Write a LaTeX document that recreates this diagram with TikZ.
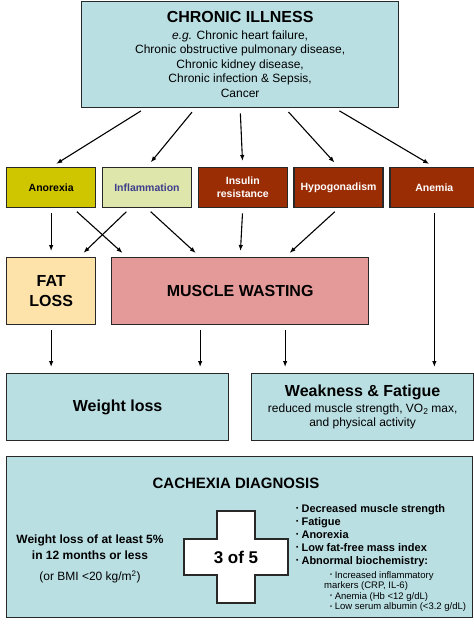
\documentclass[tikz,border=0pt]{standalone}
\usepackage{fontspec}
\setmainfont{Liberation Sans}
\usetikzlibrary{arrows.meta, positioning}
\definecolor{celeste}{RGB}{186,223,227}
\definecolor{oliva}{RGB}{208,198,0}
\definecolor{pistacho}{RGB}{222,230,172}
\definecolor{azulado}{RGB}{62,62,140}
\definecolor{oxido}{RGB}{155,45,5}
\definecolor{durazno}{RGB}{253,226,170}
\definecolor{rosado}{RGB}{228,154,152}
\definecolor{borde}{RGB}{40,40,40}
\newcommand{\punto}{\raisebox{0.12em}{\scalebox{0.6}{\textbullet}}\ }
\newcommand{\indice}[1]{\raisebox{-0.3ex}{\fontsize{8.5}{9}\selectfont #1}}
\tikzstyle{caja} = [draw=borde, line width=1.3pt, inner sep=0pt, align=center, anchor=north west]
\tikzstyle{factor} = [caja, minimum width=89pt, minimum height=40pt, font=\fontsize{10.5}{13}\selectfont\bfseries]
\tikzstyle{grande} = [caja, minimum height=67pt, font=\fontsize{16}{20}\selectfont\bfseries]
\tikzstyle{flecha} = [-{Latex[length=6pt,width=4.5pt]}, line width=1.1pt, shorten <=5pt, shorten >=6pt]

\begin{document}
\begin{tikzpicture}[x=1pt, y=-1pt]
	\useasboundingbox (0,0) rectangle (474,635);
	% enfermedad de base
	\node[caja, fill=celeste, minimum width=317pt, minimum height=106pt, font=\fontsize{12}{14.5}\selectfont] (cronica) at (81,1) {%
		\textbf{\fontsize{16}{19}\selectfont CHRONIC ILLNESS}\\[2pt]
		\textit{e.g.} Chronic heart failure,\\
		Chronic obstructive pulmonary disease,\\
		Chronic kidney disease,\\
		Chronic infection \& Sepsis,\\
		Cancer};
	% mecanismos
	\node[factor, fill=oliva] (anorexia) at (6,167) {Anorexia};
	\node[factor, fill=pistacho, text=azulado, right=5.5pt of anorexia] (inflamacion) {Inflammation};
	\node[factor, fill=oxido, text=white, right=5.5pt of inflamacion] (insulina) {Insulin\\resistance};
	\node[factor, fill=oxido, text=white, right=5.5pt of insulina] (hipogonadismo) {Hypogonadism};
	\node[factor, fill=oxido, text=white, right=5.5pt of hipogonadismo] (anemia) {Anemia};
	% consecuencias
	\node[grande, fill=durazno, minimum width=89pt] (grasa) at (6,257) {FAT\\LOSS};
	\node[grande, fill=rosado, minimum width=257pt] (musculo) at (111,257) {MUSCLE WASTING};
	\node[grande, fill=celeste, minimum width=222pt] (peso) at (6,373) {Weight loss};
	\node[grande, fill=celeste, minimum width=222pt, font=\fontsize{12}{14.5}\selectfont] (debilidad) at (251,373) {%
		\textbf{\fontsize{16}{19}\selectfont Weakness \& Fatigue}\\[1pt]
		reduced muscle strength, VO\indice{2} max,\\
		and physical activity};
	% diagnostico
	\node[caja, fill=celeste, minimum width=466pt, minimum height=161pt] (caquexia) at (6,456) {};
	\node[font=\fontsize{15}{18}\selectfont\bfseries] (titulo) at (236,483) {CACHEXIA DIAGNOSIS};
	\node[align=center, font=\fontsize{12}{16}\selectfont] (perdida) at (90,559) {%
		\textbf{Weight loss of at least 5\%}\\
		\textbf{in 12 months or less}\\[5pt]
		(or BMI <20 kg/m\textsuperscript{2})};
	\coordinate (cruz) at (236,557);
	\draw[draw=borde, line width=1.3pt, fill=white]
		([shift={(-19pt,46pt)}]cruz) -- ([shift={(19pt,46pt)}]cruz) -- ([shift={(19pt,18pt)}]cruz)
		-- ([shift={(52pt,18pt)}]cruz) -- ([shift={(52pt,-18pt)}]cruz) -- ([shift={(19pt,-18pt)}]cruz)
		-- ([shift={(19pt,-46pt)}]cruz) -- ([shift={(-19pt,-46pt)}]cruz) -- ([shift={(-19pt,-18pt)}]cruz)
		-- ([shift={(-52pt,-18pt)}]cruz) -- ([shift={(-52pt,18pt)}]cruz) -- ([shift={(-19pt,18pt)}]cruz) -- cycle;
	\node[font=\fontsize{17}{20}\selectfont\bfseries] (tres) at (cruz) {3 of 5};
	\node[align=left, anchor=north west, inner sep=0pt, font=\fontsize{11}{13}\selectfont\bfseries] (criterios) at (296,504) {%
		\punto Decreased muscle strength\\
		\punto Fatigue\\
		\punto Anorexia\\
		\punto Low fat-free mass index\\
		\punto Abnormal biochemistry:};
	\node[align=left, anchor=north west, inner sep=0pt, font=\fontsize{9.5}{10.5}\selectfont] (bioquimica) at (324,571) {%
		\hspace*{6pt}\punto Increased inflammatory\\
		markers (CRP, IL-6)\\
		\hspace*{6pt}\punto Anemia (Hb <12 g/dL)\\
		\hspace*{6pt}\punto Low serum albumin (<3.2 g/dL)};
	% flechas
	\draw[flecha] ([xshift=-95pt]cronica.south) -- (anorexia.north);
	\draw[flecha] ([xshift=-45pt]cronica.south) -- (inflamacion.north);
	\draw[flecha] (cronica.south) -- (insulina.north);
	\draw[flecha] ([xshift=45pt]cronica.south) -- (hipogonadismo.north);
	\draw[flecha] ([xshift=95pt]cronica.south) -- (anemia.north);
	\draw[flecha] (anorexia.south) -- (grasa.north);
	\draw[flecha] ([xshift=22pt]anorexia.south) -- ([xshift=16pt]musculo.north west);
	\draw[flecha] ([xshift=-17pt]inflamacion.south) -- ([xshift=28pt]grasa.north);
	\draw[flecha] (inflamacion.south) -- ([xshift=-40pt]musculo.north);
	\draw[flecha] (insulina.south) -- (musculo.north);
	\draw[flecha] (hipogonadismo.south) -- ([xshift=45pt]musculo.north);
	\draw[flecha] (anemia.south) -- (anemia.south |- debilidad.north);
	\draw[flecha] (grasa.south) -- (grasa.south |- peso.north);
	\draw[flecha] ([xshift=-40pt]musculo.south) -- ([xshift=-40pt]musculo.south |- peso.north);
	\draw[flecha] ([xshift=45pt]musculo.south) -- ([xshift=45pt]musculo.south |- debilidad.north);
\end{tikzpicture}
\end{document}
